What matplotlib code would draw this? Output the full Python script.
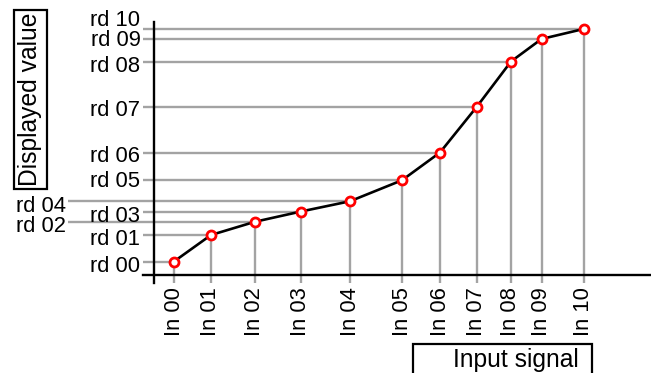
import matplotlib
matplotlib.use("Agg")
import matplotlib.pyplot as plt
from matplotlib.patches import Rectangle
from matplotlib.lines import Line2D

plt.rcParams['font.family'] = ['Liberation Sans', 'DejaVu Sans']

# ---- data ----
input_labels = ["In 00", "In 01", "In 02", "In 03", "In 04", "In 05",
                "In 06", "In 07", "In 08", "In 09", "In 10"]
display_labels = ["rd 00", "rd 01", "rd 02", "rd 03", "rd 04", "rd 05",
                  "rd 06", "rd 07", "rd 08", "rd 09", "rd 10"]
input_values = [4.0, 11.4, 20.2, 29.4, 39.2, 49.6, 57.2, 64.6, 71.4, 77.5, 85.9]
display_values = [5.4, 16.0, 21.3, 25.4, 29.5, 37.9, 49.0, 67.4, 85.4, 94.4, 98.4]

# ---- layout / style ----
W, H = 651, 373
fig = plt.figure(figsize=(W / 100, H / 100), dpi=100)

def fx(px):
    return px / W

def fy(py):
    return 1 - py / H

ax_left, ax_right, ax_top, ax_bottom = 143, 650, 22, 283
ax = fig.add_axes([fx(ax_left), fy(ax_bottom), (ax_right - ax_left) / W,
                   (ax_bottom - ax_top) / H])
ax.set_xlim(-2.2, 99.2)
ax.set_ylim(-3.2, 101.2)
ax.patch.set_visible(False)

for s in ("top", "right"):
    ax.spines[s].set_visible(False)
ax.spines["left"].set_position(("data", 0))
ax.spines["bottom"].set_position(("data", 0))
for s in ("left", "bottom"):
    ax.spines[s].set_linewidth(1.7)
    ax.spines[s].set_color("black")
    ax.spines[s].set_zorder(2)

gray = "#a3a3a3"
FS = 15.8
xmin, xmax = ax.get_xlim()
ymin, ymax = ax.get_ylim()

# far-left labels (overlapping ones pushed out)
far_left = {"rd 04", "rd 02"}
far_left_x = -17.2
# vertical baseline offsets in px (down positive)
baseline_px = {"rd 10": -3.5, "rd 09": 7, "rd 05": 7, "rd 04": 11}

for xv, yv, lab in zip(input_values, display_values, display_labels):
    x0 = far_left_x if lab in far_left else xmin
    ax.add_line(Line2D([x0, xv], [yv, yv], color=gray, lw=1.7, zorder=1,
                       clip_on=False, solid_capstyle="butt"))
    ax.add_line(Line2D([xv, xv], [ymin, yv], color=gray, lw=1.7, zorder=1,
                       clip_on=False, solid_capstyle="butt"))
    off = baseline_px.get(lab, 10)
    ax.annotate(lab, xy=(x0, yv), xycoords="data",
                xytext=(-2.5 * 0.72, -off * 0.72), textcoords="offset points",
                ha="right", va="baseline", fontsize=FS, annotation_clip=False)

ax.plot(input_values, display_values, color="black", lw=1.9, zorder=3,
        solid_joinstyle="round")
ax.plot(input_values, display_values, linestyle="none", marker="o",
        markersize=6.5, markerfacecolor="white", markeredgecolor="red",
        markeredgewidth=2.0, zorder=4)

ax.set_yticks([])
ax.set_xticks(input_values)
ax.set_xticklabels(input_labels, rotation=90, fontsize=FS)
ax.tick_params(axis="x", length=0, pad=8.5)

# boxes with axis titles
lw_box = 1.6
fig.add_artist(Rectangle((fx(14), fy(189)), (46.7 - 14) / W, (189 - 10) / H,
                         transform=fig.transFigure, fill=False,
                         edgecolor="black", lw=lw_box))
fig.text(fx(30.5), fy(99.5), "Displayed value", rotation=90, ha="center",
         va="center", fontsize=17.7)

fig.add_artist(Rectangle((fx(412.7), fy(380)), (591.7 - 412.7) / W, (380 - 344) / H,
                         transform=fig.transFigure, fill=False,
                         edgecolor="black", lw=lw_box, clip_on=False))
fig.text(fx(579), fy(366.5), "Input signal", ha="right", va="baseline",
         fontsize=17.7)

fig.savefig("out.png", dpi=100)
